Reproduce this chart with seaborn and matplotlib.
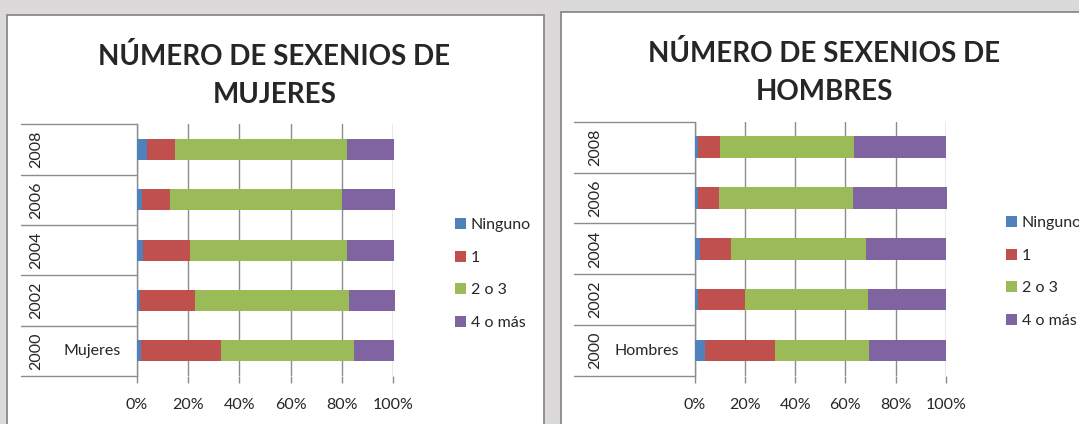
import numpy as np
import pandas as pd
import matplotlib
matplotlib.use('Agg')
import matplotlib.pyplot as plt
import matplotlib.transforms as mtransforms
from matplotlib.patches import Rectangle, Patch
import seaborn as sns

# data (percent of each year)
years = ['2008', '2006', '2004', '2002', '2000']
series = ['Ninguno', '1', '2 o 3', '4 o más']
colors = ['#4F81BD', '#C0504D', '#9BBB59', '#8064A2']

mujeres_ninguno = [4.0, 2.1, 2.6, 1.2, 1.7]
mujeres_uno = [10.9, 10.9, 18.2, 21.5, 31.2]
mujeres_dos_tres = [67.0, 67.0, 61.1, 59.9, 51.8]
mujeres_cuatro = [18.2, 20.6, 18.2, 18.0, 15.4]

hombres_ninguno = [1.1, 1.1, 1.9, 1.1, 4.1]
hombres_uno = [9.0, 8.5, 12.5, 18.8, 27.8]
hombres_dos_tres = [53.3, 53.4, 53.8, 49.0, 37.5]
hombres_cuatro = [36.6, 37.5, 31.8, 31.1, 30.6]

xticks = [0, 20, 40, 60, 80, 100]
xtick_labels = ['0%', '20%', '40%', '60%', '80%', '100%']

W, H = 1079, 424

sns.set_style('white')
plt.rcParams['font.family'] = ['Lato', 'DejaVu Sans']

fig = plt.figure(figsize=(W / 100, H / 100), dpi=100)
fig.patch.set_facecolor('#dbd9d9')


def fx(x):
    return x / W


def fy(y):
    return 1 - y / H


# white chart boxes
for x0, y0, x1, y1 in [(7, 15, 544, 440), (561, 12, 1095, 440)]:
    fig.add_artist(Rectangle((fx(x0), fy(y1)), fx(x1) - fx(x0), fy(y0) - fy(y1),
                             transform=fig.transFigure, facecolor='white',
                             edgecolor='#8a8a8a', lw=1.3, zorder=-10))

fs = 11.5


def panel(box, vals, title2, inner, sep_px, year_px, inner_px, title_x, title_y, leg_xy):
    x0, y0, x1, y1 = box
    ax = fig.add_axes([fx(x0), fy(y1), fx(x1) - fx(x0), fy(y0) - fy(y1)])
    ax.set_facecolor('none')
    df = pd.DataFrame({'year': years})
    for s, v in zip(series, vals):
        df[s] = v
    cum = df[series].cumsum(axis=1)
    # draw from the longest cumulative bar down so shorter segments sit on top
    for s, c in list(zip(series, colors))[::-1]:
        sns.barplot(x=cum[s], y=df['year'], order=years, orient='h', color=c,
                    saturation=1, width=0.42, linewidth=0, ax=ax, zorder=3)
    for p in ax.patches:
        p.set_clip_on(False)
    ax.set_xlim(0, 100)
    ax.set_ylim(4.5, -0.5)
    ax.set_xticks(xticks)
    ax.set_xticklabels(xtick_labels)
    ax.xaxis.grid(True, color='#8c8c8c', lw=1)
    ax.set_axisbelow(True)
    ax.tick_params(axis='x', direction='out', length=5, width=1, color='#8c8c8c',
                   labelsize=fs, pad=10.5, bottom=True)
    ax.tick_params(axis='y', left=False, labelleft=False)
    ax.set_xlabel('')
    ax.set_ylabel('')
    for sp in ['top', 'right', 'bottom']:
        ax.spines[sp].set_visible(False)
    ax.spines['left'].set_color('#8c8c8c')
    ax.spines['left'].set_linewidth(1)

    w = x1 - x0
    tr = mtransforms.blended_transform_factory(ax.transAxes, ax.transData)
    for b in np.arange(-0.5, 5.0, 1.0):
        ax.plot([(sep_px - x0) / w, 0], [b, b], transform=tr, color='#8c8c8c',
                lw=1, clip_on=False)
    for i, yr in enumerate(years):
        ax.text((year_px - x0) / w, i, yr, rotation=90, ha='center', va='center',
                transform=tr, fontsize=fs)
    ax.text((inner_px - x0) / w, 4, inner, ha='center', va='center', transform=tr,
            fontsize=fs)

    fig.text(fx(title_x), fy(title_y[0]), 'NÚMERO DE SEXENIOS DE', ha='center',
             va='baseline', fontsize=20, fontweight='bold')
    fig.text(fx(title_x), fy(title_y[1]), title2, ha='center', va='baseline',
             fontsize=20, fontweight='bold')

    handles = [Patch(facecolor=c, edgecolor='none', label=s) for s, c in zip(series, colors)]
    fig.legend(handles=handles, loc='upper left', bbox_to_anchor=(fx(leg_xy[0]), fy(leg_xy[1])),
               frameon=False, fontsize=fs, handlelength=0.7, handleheight=0.7,
               handletextpad=0.3, labelspacing=1.15, borderaxespad=0, borderpad=0)
    return ax


panel((136.7, 124.3, 393.3, 376), [mujeres_ninguno, mujeres_uno, mujeres_dos_tres, mujeres_cuatro],
      'MUJERES', 'Mujeres', 21, 36.7, 91.7, 274.5, (65, 103.3), (455, 218))
panel((695, 121.7, 945.7, 376), [hombres_ninguno, hombres_uno, hombres_dos_tres, hombres_cuatro],
      'HOMBRES', 'Hombres', 574, 595, 646.5, 824.5, (61.7, 100), (1006, 216))

fig.savefig('out.png', dpi=100, facecolor=fig.get_facecolor())
